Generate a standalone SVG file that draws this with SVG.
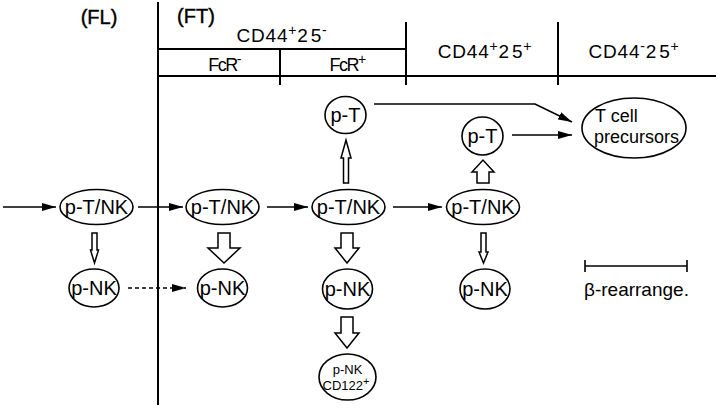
<svg xmlns="http://www.w3.org/2000/svg" width="720" height="408" viewBox="0 0 720 408">
<style>
  .ln{stroke:#000;stroke-width:2;fill:none}
  .nd{fill:#fff;stroke:#000;stroke-width:1.6}
  .t{font-family:"Liberation Sans",Arial,sans-serif;fill:#000;text-anchor:middle}
  .s{text-anchor:start}
  .n{font-size:20px}
  .h{font-size:19px;letter-spacing:0.8px}
  .f{font-size:18px;letter-spacing:-1.5px}
  .ar{stroke:#000;stroke-width:1.6;fill:none}
  .ha{fill:#fff;stroke:#000;stroke-width:1.5;stroke-linejoin:miter}
  .sup{font-size:14px}
</style>
<defs>
  <marker id="ah" viewBox="0 0 14 10" refX="14" refY="5" markerWidth="14" markerHeight="10" markerUnits="userSpaceOnUse" orient="auto">
    <path d="M0,1 L14,5 L0,9 Z" fill="#000"/>
  </marker>
</defs>

<g id="header">
  <line class="ln" x1="158" y1="2" x2="158" y2="405"/>
  <line class="ln" x1="158" y1="49" x2="406" y2="49"/>
  <line class="ln" x1="158" y1="76" x2="716" y2="76"/>
  <line class="ln" x1="280" y1="49" x2="280" y2="85"/>
  <line class="ln" x1="406" y1="22" x2="406" y2="85"/>
  <line class="ln" x1="558" y1="22" x2="558" y2="85"/>
  <text class="t" x="99" y="24" font-size="20" stroke="#000" stroke-width="0.4">(FL)</text>
  <text class="t" x="196" y="23" font-size="20" stroke="#000" stroke-width="0.4">(FT)</text>
  <text class="t h" x="282" y="42">CD44<tspan class="sup" dy="-7">+</tspan><tspan dy="7">2</tspan><tspan dx="2">5</tspan><tspan class="sup" dy="-7">-</tspan></text>
  <text class="t f" x="224" y="71">FcR<tspan class="sup" dy="-7">-</tspan></text>
  <text class="t f" x="347" y="71">FcR<tspan class="sup" dy="-7">+</tspan></text>
  <text class="t h" x="485" y="58">CD44<tspan class="sup" dy="-7">+</tspan><tspan dy="7">2</tspan><tspan dx="2">5</tspan><tspan class="sup" dy="-7">+</tspan></text>
  <text class="t h" x="634" y="58">CD44<tspan class="sup" dy="-7">-</tspan><tspan dy="7">2</tspan><tspan dx="2">5</tspan><tspan class="sup" dy="-7">+</tspan></text>
</g>

<g id="connectors">
  <line class="ar" x1="3" y1="207" x2="56" y2="207" marker-end="url(#ah)"/>
  <line class="ar" x1="138" y1="207" x2="183" y2="207" marker-end="url(#ah)"/>
  <line class="ar" x1="267" y1="207" x2="308" y2="207" marker-end="url(#ah)"/>
  <line class="ar" x1="393" y1="207" x2="442" y2="207" marker-end="url(#ah)"/>
  <line class="ar" x1="128" y1="288" x2="186" y2="288" stroke-dasharray="4,3" marker-end="url(#ah)"/>
  <polyline class="ar" points="374,104 535,104 572,122" marker-end="url(#ah)"/>
  <line class="ar" x1="512" y1="135" x2="572" y2="135" marker-end="url(#ah)"/>
  <polygon class="ha" points="92,233 97,233 97,250 98.5,250 94.5,263 90.5,250 92,250"/>
  <polygon class="ha" points="218,233 230,233 230,248 240,248 224,263 208,248 218,248"/>
  <polygon class="ha" points="341,233 353,233 353,248 359,248 347,263 335,248 341,248"/>
  <polygon class="ha" points="481,233 486,233 486,252 488,252 483.5,263 479,252 481,252"/>
  <polygon class="ha" points="341,317 353,317 353,333 359,333 347,348 335,333 341,333"/>
  <polygon class="ha" points="343.5,183 348.5,183 348.5,158 351,158 346,140 341,158 343.5,158"/>
  <polygon class="ha" points="477,183 489,183 489,172 494,172 483,160 472,172 477,172"/>
  <line class="ar" x1="585" y1="266" x2="687" y2="266"/>
  <line class="ar" x1="585" y1="260" x2="585" y2="272"/>
  <line class="ar" x1="687" y1="260" x2="687" y2="272"/>
</g>

<g id="ptnk1"><ellipse class="nd" cx="96.5" cy="207" rx="36.5" ry="17.5"/><text class="t n" x="96.5" y="214">p-T/NK</text></g>
<g id="ptnk2"><ellipse class="nd" cx="222.5" cy="207" rx="36.5" ry="17.5"/><text class="t n" x="222.5" y="214">p-T/NK</text></g>
<g id="ptnk3"><ellipse class="nd" cx="348.5" cy="207" rx="36.5" ry="17.5"/><text class="t n" x="348.5" y="214">p-T/NK</text></g>
<g id="ptnk4"><ellipse class="nd" cx="483" cy="207" rx="36.5" ry="17.5"/><text class="t n" x="483" y="214">p-T/NK</text></g>

<g id="pnk1"><ellipse class="nd" cx="94" cy="288" rx="25" ry="19"/><text class="t n" x="94" y="295">p-NK</text></g>
<g id="pnk2"><ellipse class="nd" cx="222.5" cy="288" rx="25" ry="19"/><text class="t n" x="222.5" y="295">p-NK</text></g>
<g id="pnk3"><ellipse class="nd" cx="347.5" cy="289" rx="25" ry="20"/><text class="t n" x="347.5" y="296">p-NK</text></g>
<g id="pnk4"><ellipse class="nd" cx="485" cy="289" rx="25" ry="20"/><text class="t n" x="485" y="296">p-NK</text></g>

<g id="pnkcd122"><ellipse class="nd" cx="347.5" cy="377" rx="28.5" ry="23"/>
  <text class="t" font-size="13" x="347.5" y="374">p-NK</text>
  <text class="t" font-size="13" x="346" y="390">CD122<tspan font-size="11" dy="-5">+</tspan></text>
</g>

<g id="pt1"><ellipse class="nd" cx="345.5" cy="115" rx="20.5" ry="18.5"/><text class="t n" x="345.5" y="122">p-T</text></g>
<g id="pt2"><ellipse class="nd" cx="482.5" cy="136" rx="20.5" ry="19"/><text class="t n" x="482.5" y="143">p-T</text></g>

<g id="tcell"><ellipse class="nd" cx="634" cy="128" rx="52" ry="30"/>
  <text class="t s" font-size="18" x="595" y="122">T cell</text>
  <text class="t s" font-size="18" x="594" y="143">precursors</text>
</g>

<g id="legend"><text class="t s" font-size="19" x="584" y="296">β-rearrange.</text></g>
</svg>
